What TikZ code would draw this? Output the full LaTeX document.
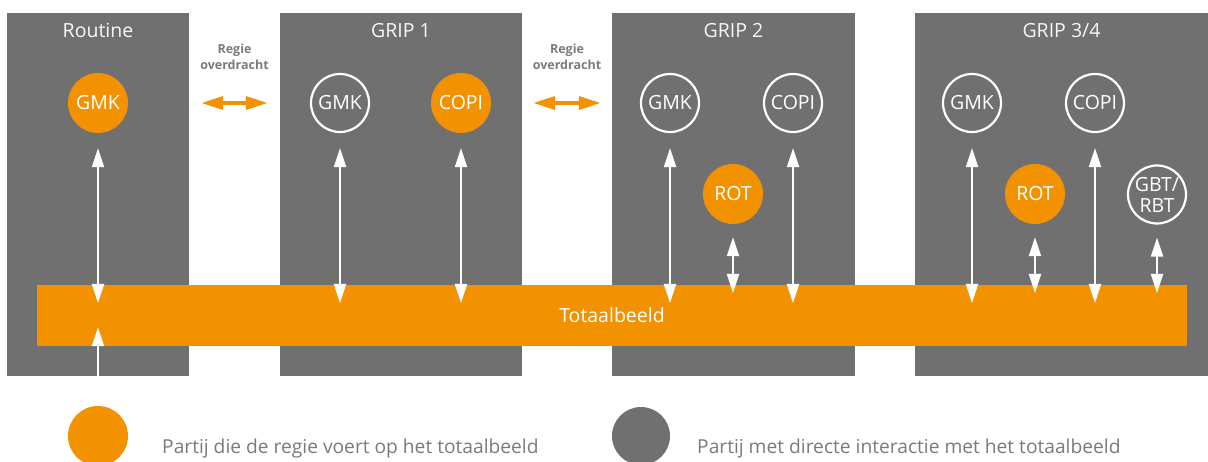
\documentclass[tikz,border=0pt]{standalone}
\usepackage{fontspec}
\setmainfont{Open Sans}
\usepackage{xcolor}
\usetikzlibrary{positioning, calc, arrows.meta}

\definecolor{gripgrey}{RGB}{112,112,112}
\definecolor{griporange}{RGB}{243,146,0}
\definecolor{keygrey}{RGB}{122,122,122}

\begin{document}
\begin{tikzpicture}[
    x=1pt, y=-1pt,
    every node/.style={font=\fontsize{19.5}{21}\selectfont},
    panel/.style={
        rectangle,
        fill=gripgrey,
        minimum height=363pt,
        inner sep=0pt
    },
    head/.style={
        text=white!94!gripgrey,
        anchor=base
    },
    lead/.style={
        circle,
        fill=griporange,
        text=white,
        minimum size=60pt,
        inner sep=0pt
    },
    party/.style={
        circle,
        draw=white,
        line width=2.2pt,
        text=white,
        minimum size=58pt,
        inner sep=0pt,
        align=center
    },
    regie/.style={
        font=\fontsize{12.5}{15.5}\selectfont\bfseries,
        text=keygrey,
        align=center
    },
    keytext/.style={
        font=\fontsize{19.2}{21}\selectfont,
        text=keygrey,
        anchor=base west,
        inner sep=0pt
    },
    link/.style={
        {Triangle[length=19pt,width=12pt]}-{Triangle[length=19pt,width=12pt]},
        draw=white,
        line width=2pt
    },
    handover/.style={
        {Triangle[length=22pt,width=13pt]}-{Triangle[length=22pt,width=13pt]},
        draw=griporange,
        line width=3.5pt
    }
]

\useasboundingbox (0,0) rectangle (1208,462);

% Kolommen
\node[panel, minimum width=182pt] (routine) at (98,194.5) {};
\node[panel, minimum width=242pt] (grip1) at (401,194.5) {};
\node[panel, minimum width=243pt] (grip2) at (733.5,194.5) {};
\node[panel, minimum width=293pt] (grip34) at (1061.5,194.5) {};

\node[head] (routineT) at ([yshift=-25pt]routine.north) {Routine};
\node[head] (grip1T) at ([yshift=-25pt]grip1.north) {GRIP 1};
\node[head] (grip2T) at ([yshift=-25pt]grip2.north) {GRIP 2};
\node[head] (grip34T) at ([yshift=-25pt]grip34.north) {GRIP 3/4};

% Totaalbeeld
\node[fill=griporange, minimum width=1150pt, minimum height=61pt,
    inner sep=0pt, text=white] (bar) at (612,315.5) {Totaalbeeld};

% Partijen
\node[lead] (gmkR) at (98,103) {GMK};

\node[party] (gmk1) at (340,103) {GMK};
\node[lead] (copi1) at (461,103) {COPI};

\node[party] (gmk2) at (670,103) {GMK};
\node[party] (copi2) at (793,103) {COPI};
\node[lead] (rot2) at (733,194) {ROT};

\node[party] (gmk3) at (972,103) {GMK};
\node[party] (copi3) at (1095,103) {COPI};
\node[lead] (rot3) at (1035,194) {ROT};
\node[party] (gbt3) at (1157,194.5) {GBT/\\RBT};

% Interactie met het totaalbeeld
\foreach \p in {gmkR, gmk1, copi1, gmk2, copi2, gmk3, copi3}
    \draw[link, shorten <=15pt, shorten >=12.5pt]
        (\p.south) -- (\p.south |- bar.center);

\foreach \p in {rot2, rot3, gbt3}
    \draw[link, shorten <=13pt, shorten >=22.5pt]
        (\p.south) -- (\p.south |- bar.center);

\draw[-{Triangle[length=19pt,width=12pt]}, white, line width=2pt, shorten >=-19pt]
    (routine.south) -- (routine.south |- bar.south);

% Regie overdracht
\draw[handover, shorten <=12pt, shorten >=12pt]
    (gmkR -| routine.east) -- (gmkR -| grip1.west);
\draw[handover, shorten <=11pt, shorten >=11pt]
    (gmkR -| grip1.east) -- (gmkR -| grip2.west);

\node[regie] (regie1) at (234.5,57) {Regie\\overdracht};
\node[regie] (regie2) at (567,57) {Regie\\overdracht};

% Legenda
\node[lead] (keyLead) at (98,436) {};
\node[circle, fill=gripgrey, minimum size=58pt, inner sep=0pt] (keyParty) at (641,436) {};

\node[keytext] (keyLeadT) at (162,453)
    {Partij die de regie voert op het totaalbeeld};
\node[keytext] (keyPartyT) at (697,453)
    {Partij met directe interactie met het totaalbeeld};

\end{tikzpicture}
\end{document}
